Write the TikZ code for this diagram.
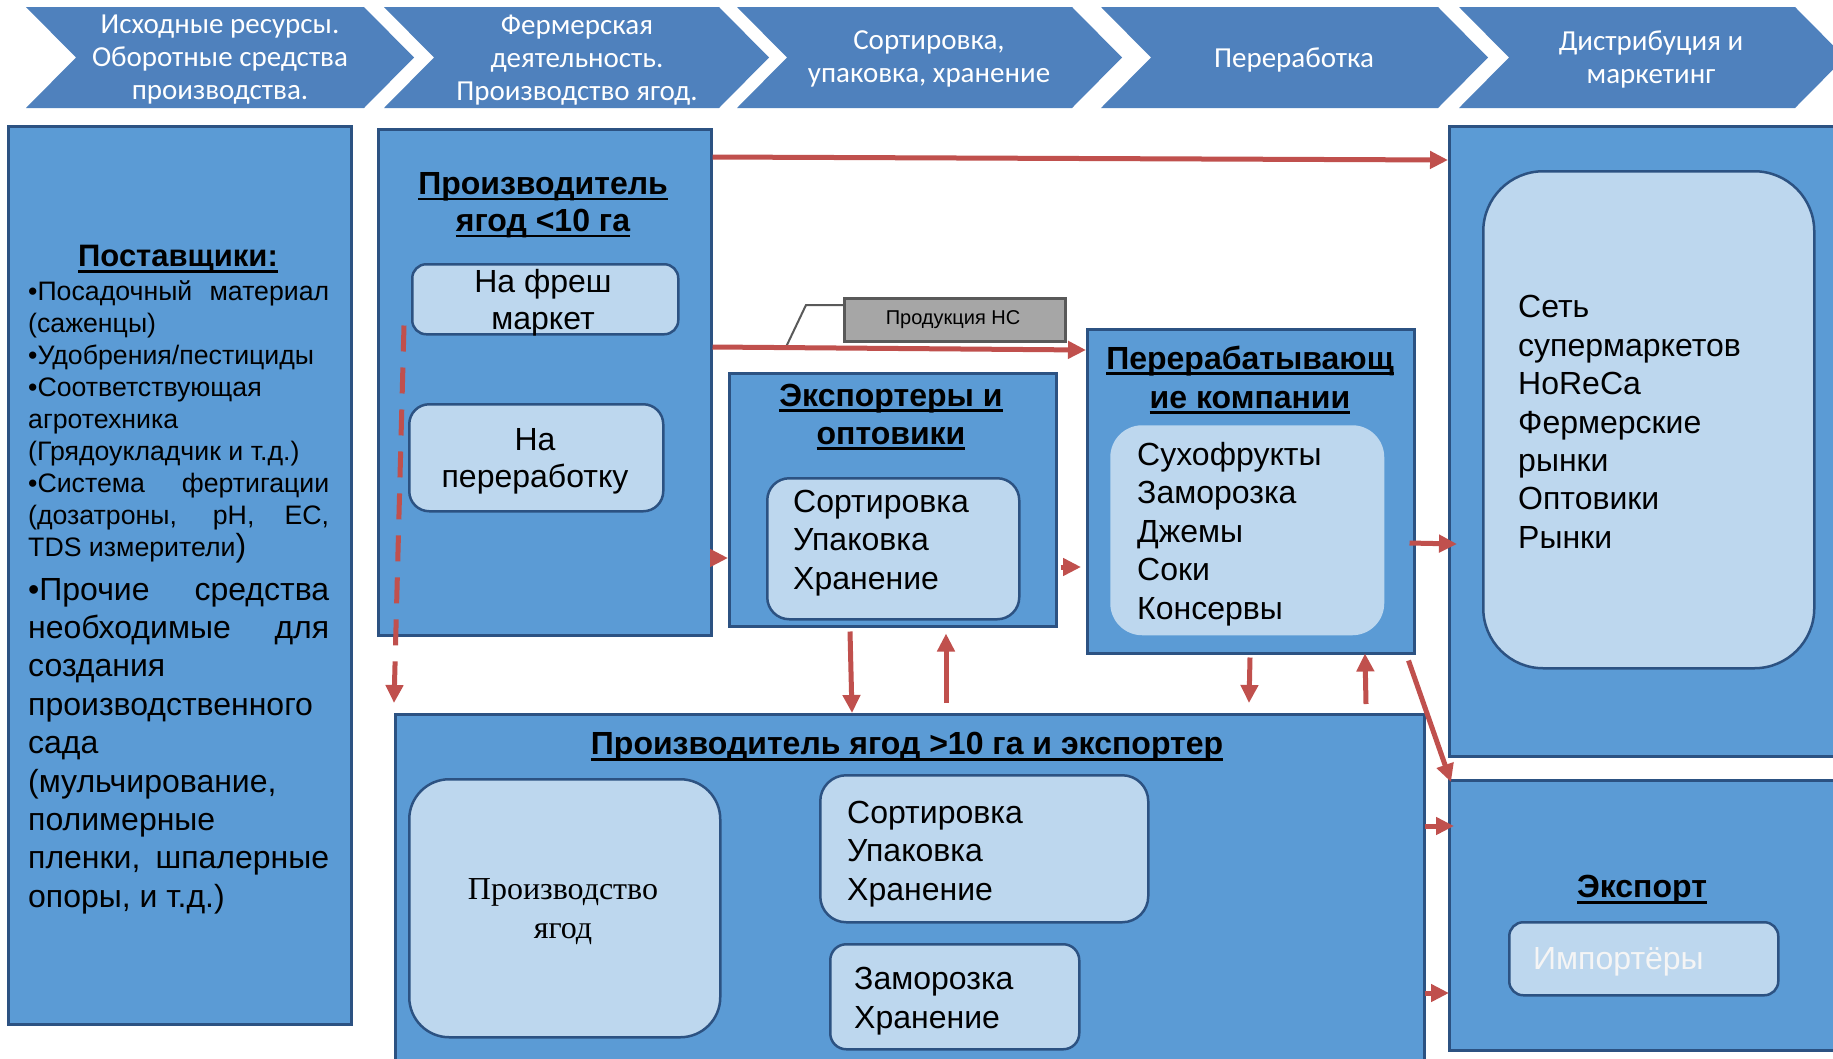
\documentclass[tikz,border=0pt]{standalone}
\usepackage{fontspec}
\setmainfont{Liberation Sans}
\newfontfamily\calfont{Carlito}
\newfontfamily\serfont{Liberation Serif}
\usetikzlibrary{arrows.meta,calc}
\definecolor{chev}{RGB}{79,129,189}
\definecolor{boxfill}{RGB}{91,155,213}
\definecolor{boxline}{RGB}{44,82,130}
\definecolor{innerfill}{RGB}{189,215,238}
\definecolor{arr}{RGB}{192,80,77}
\definecolor{callfill}{RGB}{166,166,166}
\definecolor{callline}{RGB}{89,89,89}
\newcommand\ulx[1]{\setbox0\hbox{#1}\rlap{\rule[-6pt]{\wd0}{2.8pt}}\box0}
\newcommand\fsz[2]{\fontsize{#1}{#2}\selectfont}
\newcommand\chevshape[2]{\fill[chev] (#1,7) -- (#2,7) -- (#2+50,57.5) -- (#2,108) -- (#1,108) -- (#1+50,57.5) -- cycle;}
\tikzset{
  panel/.style={draw=boxline, line width=2.5pt, fill=boxfill, inner sep=0pt, anchor=north west},
  ibox/.style={draw=boxline, line width=2.5pt, fill=innerfill, rounded corners=#1, inner sep=0pt, anchor=north west},
  chevtext/.style={text=white, align=center, inner sep=0pt, yshift=-2pt, font={\calfont\fsz{29}{33}}},
  titletext/.style={align=center, inner sep=0pt, yshift=-2pt, font={\bfseries\fsz{32}{38}}},
  bodyleft/.style={align=left, inner sep=0pt, anchor=west, yshift=-2pt, font={\fsz{32}{38.4}}},
  bodycenter/.style={align=center, inner sep=0pt, yshift=-2pt, font={\fsz{32}{36.7}}},
  redarrow/.style={draw=arr, line width=5pt, -{Triangle[length=18pt,width=17pt]}},
  dasharrow/.style={draw=arr, line width=5pt, dash pattern=on 26pt off 16pt, -{Triangle[length=18pt,width=17pt]}}
}
\begin{document}
\begin{tikzpicture}[x=1pt,y=-1pt]
\useasboundingbox (0,0) rectangle (1833,1058);
\begin{scope}
\clip (0,0) rectangle (1833,1058);
\fill[white] (0,0) rectangle (1833,1058);
% chevrons
\chevshape{26}{364}
\chevshape{384}{719}
\chevshape{737}{1072}
\chevshape{1101}{1438}
\chevshape{1459}{1795}
\node[chevtext] (c1) at (220,58) {Исходные ресурсы.\\Оборотные средства\\производства.};
\node[chevtext] (c2) at (577,58) {Фермерская\\деятельность.\\Производство ягод.};
\node[chevtext] (c3) at (929,57) {Сортировка,\\упаковка, хранение};
\node[chevtext] (c4) at (1294,58) {Переработка};
\node[chevtext] (c5) at (1651,57) {Дистрибуция и\\маркетинг};

% suppliers
\node[panel, minimum width=343pt, minimum height=898pt] (sup) at (7,125) {};
\node[titletext, font={\bfseries\fsz{31}{37}}] (supT) at (178,257) {\ulx{Поставщики:}};
\node[align=left, inner sep=0pt, anchor=west, yshift=-2pt, font={\fsz{26.7}{32}}] (supA) at (28,420) {\makebox[301pt][s]{•Посадочный материал}\\
(саженцы)\\
•Удобрения/пестициды\\
•Соответствующая\\
агротехника\\
(Грядоукладчик и т.д.)\\
\makebox[301pt][s]{•Система фертигации}\\
\makebox[301pt][s]{(дозатроны, pH, EC,}\\
TDS измерители{\fsz{32}{32})}};
\node[align=left, inner sep=0pt, anchor=west, yshift=-2pt, font={\fsz{32}{38.4}}] (supB) at (28,744) {\makebox[301pt][s]{•Прочие средства}\\
\makebox[301pt][s]{необходимые для}\\
создания\\
производственного\\
сада\\
(мульчирование,\\
полимерные\\
\makebox[301pt][s]{пленки, шпалерные}\\
опоры, и т.д.)};

% small producer
\node[panel, minimum width=333pt, minimum height=506pt] (p1) at (377,128) {};
\node[titletext, font={\bfseries\fsz{32}{37}}] (p1T) at (543,203) {\ulx{Производитель}\\\ulx{ягод <10 га}};
\node[ibox=14pt, minimum width=266pt, minimum height=70pt] (fresh) at (411,263) {};
\node[bodycenter] (freshT) at (543,301) {На фреш\\маркет};
\node[ibox=20pt, minimum width=254pt, minimum height=107pt] (proc1) at (408,403) {};
\node[bodycenter] (proc1T) at (535,459) {На\\переработку};

% exporters
\node[panel, minimum width=327pt, minimum height=253pt] (exp) at (728,372) {};
\node[titletext] (expT) at (891,415) {\ulx{Экспортеры и}\\\ulx{оптовики}};
\node[ibox=22pt, minimum width=252pt, minimum height=141pt] (expIn) at (766,477) {};
\node[bodyleft] (expInT) at (793,541) {Сортировка\\Упаковка\\Хранение};

% processing
\node[panel, minimum width=327pt, minimum height=324pt] (proc) at (1086,328) {};
\node[titletext, font={\bfseries\fsz{32}{39}}] (procT) at (1250,378) {\ulx{Перерабатывающ}\\\ulx{ие компании}};
\node[ibox=32pt, draw=none, minimum width=274pt, minimum height=210pt] (procIn) at (1109,424) {};
\node[bodyleft] (procInT) at (1137,532) {Сухофрукты\\Заморозка\\Джемы\\Соки\\Консервы};

% distribution
\node[panel, minimum width=400pt, minimum height=630pt] (dist) at (1448,125) {};
\node[ibox=60pt, minimum width=331pt, minimum height=497pt] (distIn) at (1482,170) {};
\node[bodyleft] (distInT) at (1518,420) {Сеть\\супермаркетов\\HoReCa\\Фермерские\\рынки\\Оптовики\\Рынки};

% export
\node[panel, minimum width=400pt, minimum height=270pt] (xp) at (1448,779) {};
\node[titletext] (xpT) at (1642,888) {\ulx{Экспорт}};
\node[ibox=14pt, minimum width=269pt, minimum height=73pt] (imp) at (1508,921) {};
\node[bodyleft, text={rgb,255:red,245;green,245;blue,245}] (impT) at (1533,960) {Импортёры};

% large producer
\node[panel, minimum width=1029pt, minimum height=380pt] (big) at (394,713) {};
\node[titletext] (bigT) at (907,745) {\ulx{Производитель ягод >10 га и экспортер}};
\node[ibox=40pt, minimum width=311pt, minimum height=258pt] (bprod) at (408,778) {};
\node[align=center, inner sep=0pt, yshift=-2pt, font={\serfont\fsz{32}{39}}] (bprodT) at (563,910) {Производство\\ягод};
\node[ibox=26pt, minimum width=328pt, minimum height=147pt] (bsort) at (819,774) {};
\node[bodyleft] (bsortT) at (847,852) {Сортировка\\Упаковка\\Хранение};
\node[ibox=16pt, minimum width=249pt, minimum height=105pt] (bfrz) at (829,943) {};
\node[bodyleft] (bfrzT) at (854,999) {Заморозка\\Хранение};

% callout
\node[draw=callline, line width=2.5pt, fill=callfill, inner sep=0pt, anchor=north west, minimum width=221pt, minimum height=43pt] (call) at (843,297) {};
\node[inner sep=0pt, yshift=-2pt, font={\fsz{20}{24}}] (callT) at (953,318) {Продукция НС};
\coordinate (cl1) at (806,305);
\coordinate (cl2) at (786,347);
\draw[callline, line width=2pt] ($(call.north west)+(0,8)$) -- (cl1) -- (cl2);

% connectors
\draw[redarrow] ($(p1.north east)+(0,29)$) -- ($(dist.north west)+(0,35)$);
\draw[redarrow] ($(p1.north east)+(0,219)$) -- ($(proc.north west)+(0,22)$);
\draw[redarrow] ($(p1.north east)+(2,430)$) -- ($(exp.north west)+(0,186)$);
\draw[redarrow] ($(exp.north east)+(3,195)$) -- ($(proc.north west)+(-5,239)$);
\draw[redarrow] ($(proc.north east)+(-6,215)$) -- ($(dist.north west)+(9,419)$);
\draw[redarrow] ($(exp.south west)+(122,4)$) -- ($(big.north west)+(458,0)$);
\draw[redarrow] ($(big.north west)+(552,-10)$) -- ($(exp.south west)+(218,6)$);
\draw[redarrow] ($(proc.south west)+(164,3)$) -- ($(big.north west)+(855,-10)$);
\draw[redarrow] ($(big.north west)+(972,-9)$) -- ($(proc.south west)+(279,-1)$);
\draw[redarrow] ($(proc.south east)+(-7,6)$) -- ($(xp.north west)+(3,3)$);
\draw[redarrow] ($(big.north east)+(-1,113)$) -- ($(xp.north west)+(6,47)$);
\draw[redarrow] ($(big.north east)+(-1,280)$) -- ($(xp.north west)+(1,214)$);
\coordinate (dstart) at ($(fresh.south west)+(-7,-10)$);
\draw[dasharrow] (dstart) -- ($(big.north west)+(0,-10)$);
\end{scope}
\end{tikzpicture}
\end{document}
